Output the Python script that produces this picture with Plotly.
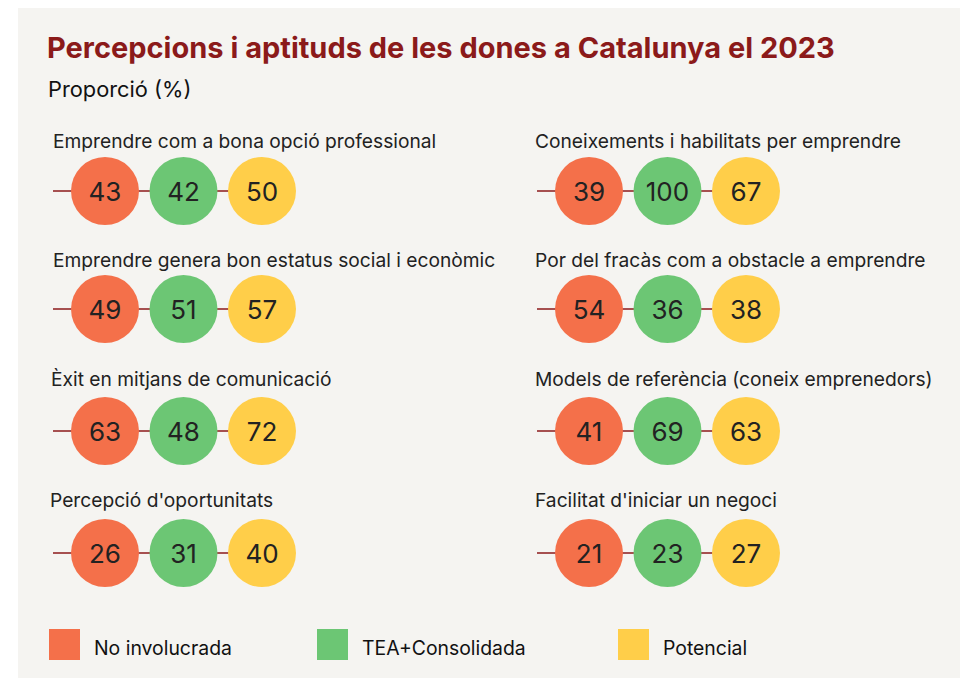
import plotly.graph_objects as go

# ---- data ----
categories = [
    "Emprendre com a bona opció professional",
    "Coneixements i habilitats per emprendre",
    "Emprendre genera bon estatus social i econòmic",
    "Por del fracàs com a obstacle a emprendre",
    "Èxit en mitjans de comunicació",
    "Models de referència (coneix emprenedors)",
    "Percepció d'oportunitats",
    "Facilitat d'iniciar un negoci",
]
series_names = ["No involucrada", "TEA+Consolidada", "Potencial"]
no_involucrada = [43, 39, 49, 54, 63, 41, 26, 21]
tea_consolidada = [42, 100, 51, 36, 48, 69, 31, 23]
potencial = [50, 67, 57, 38, 72, 63, 40, 27]
series_values = [no_involucrada, tea_consolidada, potencial]

# ---- styling / layout constants (page pixel coordinates) ----
W, H = 968, 678
OFF = 8  # page body margin
colors = ["#F4704A", "#6CC674", "#FFCE49"]
dark_red = "#8B1A1A"
bg = "#F5F4F1"
FONT = "Inter"
col_x0 = [105, 589]          # centre of first circle per column
label_x = [[51, 51, 49, 48], [533, 533, 533, 533]]
row_circle_y = [191, 309, 431, 553]
row_label_y = [141, 260, 379, 500]
step = 78.5
diam = 68
text_dy = 3

fig = go.Figure()

# background panel
fig.add_shape(type="rect", x0=18, x1=W + OFF + 5, y0=3, y1=H + OFF + 5, fillcolor=bg,
              line=dict(width=0), layer="below")

# connecting lines
lx, ly = [], []
for i, _ in enumerate(categories):
    col, row = i % 2, i // 2
    y = row_circle_y[row]
    lx += [col_x0[col] - 52, col_x0[col] + step * (len(series_values) - 1), None]
    ly += [y, y, None]
fig.add_trace(go.Scatter(x=lx, y=ly, mode="lines",
                         line=dict(color=dark_red, width=1.6),
                         hoverinfo="skip", showlegend=False))

# circles with values
for s, (name, vals) in enumerate(zip(series_names, series_values)):
    xs, ys = [], []
    for i, _ in enumerate(categories):
        col, row = i % 2, i // 2
        xs.append(col_x0[col] + step * s)
        ys.append(row_circle_y[row])
    fig.add_trace(go.Scatter(
        x=xs, y=ys, mode="markers", name=name,
        marker=dict(size=diam, color=colors[s], line=dict(width=0)),
        customdata=vals, hovertemplate="%{customdata}<extra>" + name + "</extra>",
        showlegend=False,
    ))
    fig.add_trace(go.Scatter(
        x=xs, y=[y + text_dy for y in ys], mode="text",
        text=[str(v) for v in vals], textposition="middle center",
        textfont=dict(family=FONT, size=26, color="#222222"),
        hoverinfo="skip", showlegend=False,
    ))

# category labels
for i, cat in enumerate(categories):
    col, row = i % 2, i // 2
    fig.add_annotation(x=label_x[col][row], y=row_label_y[row], text=cat,
                       xanchor="left", yanchor="middle", showarrow=False,
                       font=dict(family=FONT, size=19.2, color="#222222"))

# legend (manual)
leg_x = [64.5, 332.5, 633.5]
leg_y = 644.5
fig.add_trace(go.Scatter(
    x=leg_x, y=[leg_y] * 3, mode="markers",
    marker=dict(symbol="square", size=31, color=colors, line=dict(width=0)),
    hoverinfo="skip", showlegend=False))
for k, name in enumerate(series_names):
    fig.add_annotation(x=leg_x[k] + 27.5, y=leg_y + 3, text=name,
                       xanchor="left", yanchor="middle", showarrow=False,
                       font=dict(family=FONT, size=19.4, color="#111111"))

# title & subtitle
fig.add_annotation(x=45, y=47, text="<b>Percepcions i aptituds de les dones a Catalunya el 2023</b>",
                   xanchor="left", yanchor="middle", showarrow=False,
                   font=dict(family=FONT, size=29, color=dark_red))
fig.add_annotation(x=46, y=89, text="Proporció (%)",
                   xanchor="left", yanchor="middle", showarrow=False,
                   font=dict(family=FONT, size=21.8, color="#111111"))

fig.update_xaxes(range=[OFF, W + OFF], visible=False, fixedrange=True)
fig.update_yaxes(range=[H + OFF, OFF], visible=False, fixedrange=True)
fig.update_layout(width=W, height=H, margin=dict(l=0, r=0, t=0, b=0),
                  paper_bgcolor="white", plot_bgcolor="white",
                  showlegend=False)

fig.write_html("out.html")
